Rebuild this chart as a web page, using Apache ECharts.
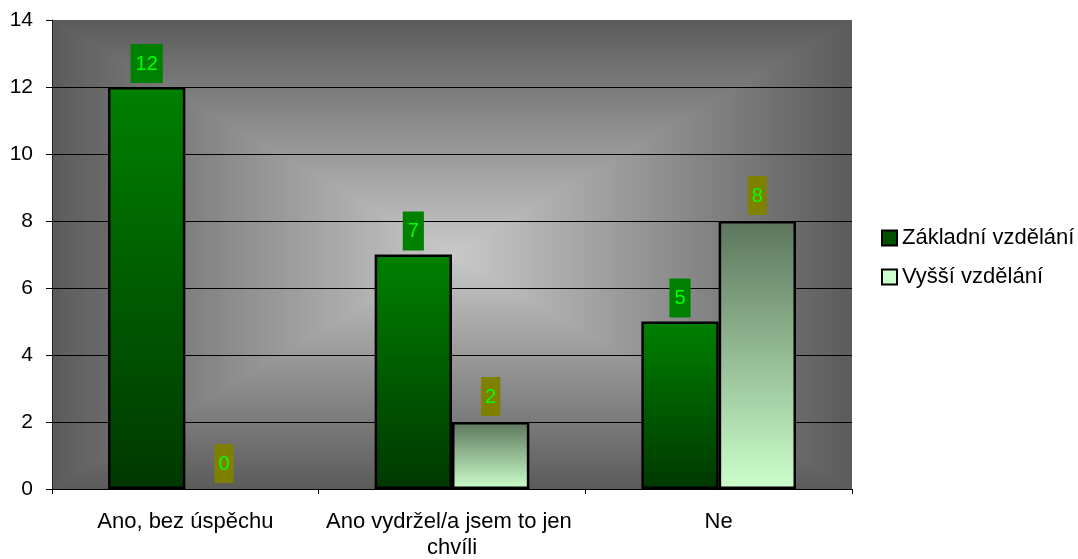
<!DOCTYPE html>
<html>
<head>
<meta charset="utf-8">
<script src="https://cdn.jsdelivr.net/npm/echarts@6/dist/echarts.min.js"></script>
<style>html,body{margin:0;padding:0;background:#fff}#c{width:1078px;height:559px}</style>
</head>
<body>
<div id="c"></div>
<script>
var categories = ["Ano, bez úspěchu", "Ano vydržel/a jsem to jen chvíli", "Ne"];
var seriesNames = ["Základní vzdělání", "Vyšší vzdělání"];
var basicValues = [12, 7, 5];
var higherValues = [0, 2, 8];
var yTicks = [0, 2, 4, 6, 8, 10, 12, 14];

var L = 52, T = 20, R = 852, B = 489;
var cx = (L + R) / 2, cy = (T + B) / 2;
var edge = '#5b5b5b', mid = '#c9c9c9';
function lg(x, y, x2, y2, c0, c1) {
  return {type: 'linear', x: x, y: y, x2: x2, y2: y2, colorStops: [{offset: 0, color: c0}, {offset: 1, color: c1}]};
}
function barData(vals) {
  return vals.map(function (v) { return v === 0 ? {value: v, itemStyle: {borderWidth: 0}} : v; });
}
var font = '"Liberation Sans", Arial, sans-serif';
var chart = echarts.init(document.getElementById('c'));
chart.setOption({
  animation: false,
  textStyle: {fontFamily: font},
  graphic: [
    {type: 'rect', z: -101, shape: {x: L, y: T, width: cx - L, height: B - T}, style: {fill: lg(0, 0, 1, 0, edge, mid)}},
    {type: 'rect', z: -101, shape: {x: cx, y: T, width: R - cx, height: B - T}, style: {fill: lg(0, 0, 1, 0, mid, edge)}},
    {type: 'polygon', z: -100, shape: {points: [[L, T], [R, T], [cx, cy]]}, style: {fill: lg(0, 0, 0, 1, edge, mid)}},
    {type: 'polygon', z: -100, shape: {points: [[L, B], [R, B], [cx, cy]]}, style: {fill: lg(0, 0, 0, 1, mid, edge)}}
  ],
  grid: {left: L, top: T, right: 1078 - R, bottom: 559 - B, containLabel: false, outerBoundsMode: 'none'},
  legend: {
    orient: 'vertical', left: 881, top: 227, padding: 0, itemGap: 17, itemWidth: 15, itemHeight: 15,
    textStyle: {fontSize: 22, color: '#000', fontFamily: font},
    icon: 'rect',
    data: [
      {name: seriesNames[0], itemStyle: {color: '#005000', borderColor: '#000', borderWidth: 2}},
      {name: seriesNames[1], itemStyle: {color: '#ccffcc', borderColor: '#000', borderWidth: 2}}
    ]
  },
  xAxis: {
    type: 'category', data: categories,
    axisLine: {lineStyle: {color: '#000', width: 1}},
    axisTick: {show: true, length: 5, lineStyle: {color: '#000'}},
    axisLabel: {fontSize: 22, color: '#000', margin: 20, width: 266, overflow: 'break', lineHeight: 26, interval: 0}
  },
  yAxis: {
    type: 'value', min: 0, max: 14, interval: 2,
    axisLine: {show: true, lineStyle: {color: '#222', width: 1}},
    axisTick: {show: true, length: 6, lineStyle: {color: '#000'}},
    axisLabel: {fontSize: 21, color: '#000', margin: 19, formatter: function (v) { return yTicks.indexOf(v) >= 0 ? String(v) : ''; }},
    splitLine: {show: true, lineStyle: {color: ['#000', '#000', '#000', '#000', '#000', '#000', '#000', 'transparent'], width: 1}}
  },
  series: [
    {
      name: seriesNames[0], type: 'bar', data: barData(basicValues), barGap: '0%', barCategoryGap: '42%',
      itemStyle: {color: lg(0, 0, 0, 1, '#008000', '#003800'), borderColor: '#000', borderWidth: 2.5},
      label: {show: true, position: 'top', distance: 4, fontSize: 20, color: '#00ff00', backgroundColor: '#008000', padding: [10, 5, 9, 5], fontFamily: font}
    },
    {
      name: seriesNames[1], type: 'bar', data: barData(higherValues),
      itemStyle: {color: lg(0, 0, 0, 1, '#5c765c', '#ccffcc'), borderColor: '#000', borderWidth: 2.5},
      label: {show: true, position: 'top', distance: 6, fontSize: 20, color: '#00ff00', backgroundColor: '#808000', padding: [10, 4, 9, 4], fontFamily: font}
    }
  ]
});
</script>
</body>
</html>
